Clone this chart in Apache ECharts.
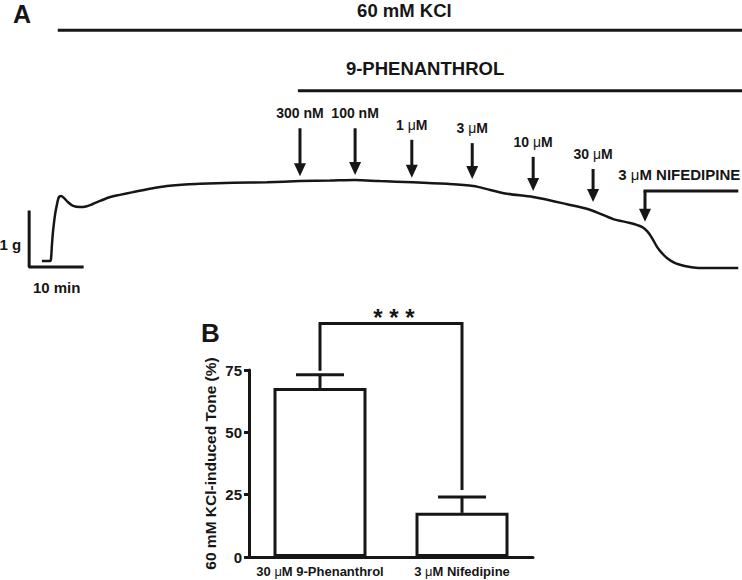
<!DOCTYPE html>
<html><head><meta charset="utf-8">
<script src="https://cdn.jsdelivr.net/npm/echarts@6/dist/echarts.min.js"></script>
<style>html,body{margin:0;padding:0;background:#fff}#c{width:742px;height:580px}</style>
</head><body><div id="c"></div>
<script>
// ---------- Panel A: isometric tension trace ----------
const traceTime = [2.4, 3.9, 4.1, 4.3, 4.5, 4.9, 5.3, 5.6, 6.0, 6.6, 7.3, 8.3, 9.6, 10.7, 11.9, 13.4, 15.3, 17.1, 19.6, 22.8, 26.0, 29.4, 32.2, 38.5, 44.9, 51.1, 56.8, 61.5, 66.2, 72.4, 78.8, 83.8, 87.0, 90.2, 95.1, 101.5, 105.8, 110.2, 113.4, 115.6, 116.6, 117.5, 118.5, 119.4, 120.4, 121.5, 122.8, 124.7, 126.6, 130.4, 133.8];
const traceTension = [0.11, 0.11, 0.13, 0.40, 0.64, 0.96, 1.16, 1.27, 1.29, 1.25, 1.18, 1.11, 1.09, 1.10, 1.14, 1.20, 1.27, 1.31, 1.36, 1.42, 1.47, 1.50, 1.51, 1.53, 1.54, 1.56, 1.57, 1.58, 1.56, 1.54, 1.51, 1.47, 1.40, 1.33, 1.27, 1.14, 1.04, 0.87, 0.80, 0.73, 0.65, 0.53, 0.36, 0.25, 0.16, 0.09, 0.04, 0.00, -0.02, -0.02, -0.02];

// 9-phenanthrol cumulative additions (time, arrow start level, arrow tip level)
const doseLabels = ['300 nM', '100 nM', '1 μM', '3 μM', '10 μM', '30 μM'];
const doseTimes = [51.1, 61.5, 72.2, 83.6, 95.1, 106.4];
const arrowTop = [2.52, 2.52, 2.31, 2.25, 2.00, 1.78];
const arrowTip = [1.65, 1.67, 1.62, 1.60, 1.38, 1.18];

// application bars (label, start time, level, label time)
const treatLabels = ['60 mM KCl', '9-PHENANTHROL'];
const treatStart = [5.4, 50.7];
const treatLevel = [4.30, 3.20];
const treatLabelTime = [70.8, 74.7];

// nifedipine addition
const nifLabel = '3 μM NIFEDIPINE';
const nifStart = 116.2, nifEnd = 133.8, nifLevel = 1.38, nifTip = 0.82;

// scale bar: 10 min x 1 g
const scaleTime = [0, 0, 10];
const scaleTension = [1, 0, 0];

// ---------- Panel B: bar chart ----------
const groups = ['30 μM 9-Phenanthrol', '3 μM Nifedipine'];
const toneMean = [67.8, 17.7];
const toneSem = [5.3, 6.4];
const sigLegBottom = [74.7, 26.9];
const sigTop = 93.6;
const sigLabel = '* * *';

const INK = '#161616';
const FONT = 'Liberation Sans, Arial, sans-serif';
function muFmt(s) { return s.replace(/μ/g, '{m|μ}'); }
function richFor(size) { return { m: { fontWeight: 'normal', fontFamily: FONT, fontSize: size, fill: INK, color: INK } }; }

function arrow(x, y0, y1) {
  const hl = 13, hw = 6;
  return [
    { type: 'line', shape: { x1: x, y1: y0, x2: x, y2: y1 - hl + 1 }, style: { stroke: INK, lineWidth: 3 } },
    { type: 'polygon', shape: { points: [[x - hw, y1 - hl], [x + hw, y1 - hl], [x, y1]] }, style: { fill: INK } }
  ];
}
function txt(x, y, s, size, align) {
  return { type: 'text', style: { x: x, y: y, text: muFmt(s), fill: INK, fontSize: size, fontWeight: 'bold', fontFamily: FONT,
    align: align || 'center', verticalAlign: 'middle', rich: richFor(size) } };
}

const chart = echarts.init(document.getElementById('c'), null, { renderer: 'svg' });
chart.setOption({
  animation: false,
  backgroundColor: '#fff',
  textStyle: { fontFamily: FONT },
  graphic: [
    { type: 'text', x: 13, y: 14, style: { text: 'A', fontSize: 25, fontWeight: 'bold', fontFamily: FONT, fill: INK, verticalAlign: 'middle' } },
    { type: 'text', x: 201, y: 333, style: { text: 'B', fontSize: 26, fontWeight: 'bold', fontFamily: FONT, fill: INK, verticalAlign: 'middle' } }
  ],
  grid: [
    { left: 0, top: 0, width: 742, height: 300 },
    { left: 249, top: 370, width: 284, height: 187 }
  ],
  xAxis: [
    { gridIndex: 0, type: 'value', min: -5.5, max: 134.5, show: false },
    { gridIndex: 1, type: 'category', data: groups,
      axisLine: { lineStyle: { color: INK, width: 3 } },
      axisTick: { alignWithLabel: true, length: 5, lineStyle: { color: INK, width: 3 } },
      axisLabel: { interval: 0, color: INK, fontWeight: 'bold', fontSize: 13, margin: 8, formatter: muFmt, rich: richFor(13) } }
  ],
  yAxis: [
    { gridIndex: 0, type: 'value', min: -0.6, max: 4.85, show: false },
    { gridIndex: 1, type: 'value', min: 0, max: 75, interval: 25,
      name: '60 mM KCl-induced Tone (%)', nameLocation: 'middle', nameGap: 31,
      nameTextStyle: { color: INK, fontWeight: 'bold', fontSize: 15.5 },
      axisLine: { show: true, lineStyle: { color: INK, width: 3 } },
      axisTick: { show: true, length: 5, lineStyle: { color: INK, width: 3 } },
      axisLabel: { color: INK, fontWeight: 'bold', fontSize: 15, margin: 7 },
      splitLine: { show: false } }
  ],
  series: [
    { type: 'line', xAxisIndex: 0, yAxisIndex: 0, data: traceTime.map((t, i) => [t, traceTension[i]]),
      showSymbol: false, smooth: 0.3, lineStyle: { color: INK, width: 2.5 }, silent: true },
    { type: 'line', xAxisIndex: 0, yAxisIndex: 0, data: scaleTime.map((t, i) => [t, scaleTension[i]]),
      showSymbol: false, lineStyle: { color: INK, width: 3, cap: 'square' }, silent: true },
    { type: 'custom', xAxisIndex: 0, yAxisIndex: 0, clip: false, silent: true,
      data: doseTimes.map((t, i) => [t, arrowTop[i], arrowTip[i], i]),
      renderItem: function (params, api) {
        const i = api.value(3);
        const p0 = api.coord([api.value(0), api.value(1)]);
        const p1 = api.coord([api.value(0), api.value(2)]);
        return { type: 'group', children: arrow(p0[0], p0[1], p1[1]).concat([txt(p0[0], p0[1] - 15, doseLabels[i], 14)]) };
      } },
    { type: 'custom', xAxisIndex: 0, yAxisIndex: 0, clip: false, silent: true,
      data: treatStart.map((t, i) => [t, treatLevel[i], treatLabelTime[i], i]),
      renderItem: function (params, api) {
        const i = api.value(3);
        const p0 = api.coord([api.value(0), api.value(1)]);
        const pl = api.coord([api.value(2), api.value(1)]);
        const xEnd = api.getWidth();
        return { type: 'group', children: [
          { type: 'line', shape: { x1: p0[0], y1: p0[1], x2: xEnd, y2: p0[1] }, style: { stroke: INK, lineWidth: 3 } },
          txt(pl[0], p0[1] - (i === 0 ? 20 : 22), treatLabels[i], 18.5)
        ] };
      } },
    { type: 'custom', xAxisIndex: 0, yAxisIndex: 0, clip: false, silent: true,
      data: [[nifStart, nifLevel, nifEnd, nifTip]],
      renderItem: function (params, api) {
        const pS = api.coord([api.value(0), api.value(1)]);
        const pE = api.coord([api.value(2), api.value(1)]);
        const pT = api.coord([api.value(0), api.value(3)]);
        return { type: 'group', children: [
          { type: 'line', shape: { x1: pS[0] - 1.5, y1: pS[1], x2: pE[0], y2: pE[1] }, style: { stroke: INK, lineWidth: 3 } }
        ].concat(arrow(pS[0], pS[1], pT[1])).concat([txt(pE[0] + 2, pS[1] - 17, nifLabel, 15, 'right')]) };
      } },
    { type: 'custom', xAxisIndex: 0, yAxisIndex: 0, clip: false, silent: true,
      data: [[scaleTime[0], scaleTension[0], scaleTime[2], scaleTension[2]]],
      renderItem: function (params, api) {
        const pTop = api.coord([api.value(0), api.value(1)]);
        const pO = api.coord([api.value(0), api.value(3)]);
        const pR = api.coord([api.value(2), api.value(3)]);
        return { type: 'group', children: [
          txt(pTop[0] - 8, (pTop[1] + pO[1]) / 2 + 5, '1 g', 15, 'right'),
          txt((pO[0] + pR[0]) / 2 + 1, pO[1] + 21, '10 min', 15)
        ] };
      } },
    { type: 'bar', xAxisIndex: 1, yAxisIndex: 1, data: toneMean, barWidth: 93,
      itemStyle: { color: '#fff', borderColor: INK, borderWidth: 3 }, silent: true, z: 1 },
    { type: 'custom', xAxisIndex: 1, yAxisIndex: 1, clip: false, silent: true, z: 3,
      data: toneMean.map((m, i) => [i, m, m + toneSem[i]]),
      renderItem: function (params, api) {
        const p0 = api.coord([api.value(0), api.value(1)]);
        const p1 = api.coord([api.value(0), api.value(2)]);
        return { type: 'group', children: [
          { type: 'line', shape: { x1: p0[0], y1: p0[1], x2: p1[0], y2: p1[1] }, style: { stroke: INK, lineWidth: 3 } },
          { type: 'line', shape: { x1: p1[0] - 24, y1: p1[1], x2: p1[0] + 24, y2: p1[1] }, style: { stroke: INK, lineWidth: 3 } }
        ] };
      } },
    { type: 'custom', xAxisIndex: 1, yAxisIndex: 1, clip: false, silent: true, z: 3,
      data: [[0, 1, sigLegBottom[0], sigLegBottom[1], sigTop]],
      renderItem: function (params, api) {
        const a = api.coord([api.value(0), api.value(2)]);
        const at = api.coord([api.value(0), api.value(4)]);
        const b = api.coord([api.value(1), api.value(3)]);
        const bt = api.coord([api.value(1), api.value(4)]);
        return { type: 'group', children: [
          { type: 'polyline', shape: { points: [a, at, bt, b] }, style: { stroke: INK, lineWidth: 3, fill: null } },
          { type: 'text', style: { x: (at[0] + bt[0]) / 2 + 3, y: at[1] - 6, text: sigLabel, fill: INK, fontSize: 24, fontWeight: 'bold', fontFamily: FONT, align: 'center', verticalAlign: 'middle' } }
        ] };
      } }
  ]
});
</script>
</body></html>
